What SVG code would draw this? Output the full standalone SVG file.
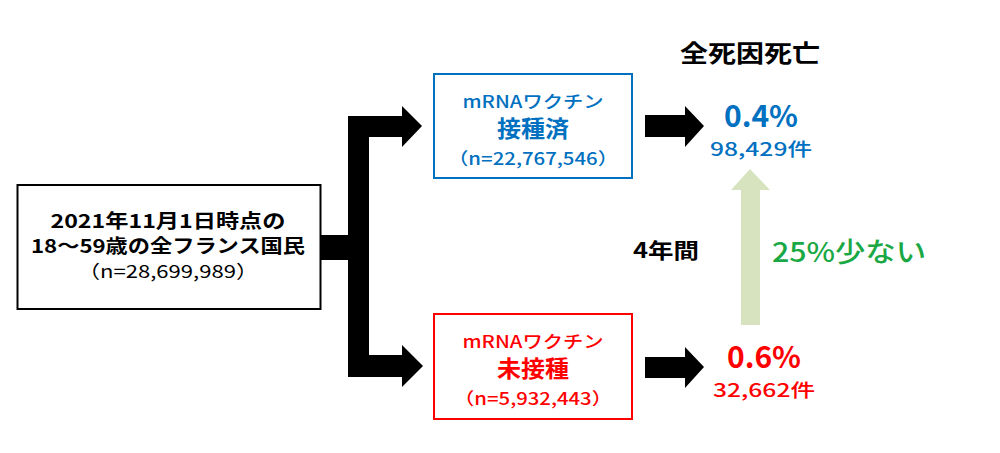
<svg xmlns="http://www.w3.org/2000/svg" width="1000" height="453" viewBox="0 0 1000 453">
<style>
text{font-family:"Noto Sans CJK JP","Noto Sans",sans-serif;text-anchor:middle}
.b{font-weight:bold}
.m{font-weight:500}
.blue{fill:#0070c0}
.red{fill:#ff0000}
</style>
<rect width="1000" height="453" fill="#fff"/>
<g id="connectors">
<polygon fill="#000" points="320,235 348,235 348,116 402,116 402,106 422,126 402,147 402,137 369,137 369,355 402,355 402,345 423,366 402,387 402,377 348,377 348,260 320,260"/>
<polygon fill="#000" points="645,115 685,115 685,106 704,126 685,147 685,137 645,137"/>
<polygon fill="#000" points="645,357 685,357 685,347 704,367 685,388 685,378 645,378"/>
<polygon fill="#d7e3bf" points="741,325 741,190 731,190 750,169 770,190 760,190 760,325"/>
</g>
<g id="source">
<rect x="17.5" y="185" width="303" height="124" fill="#fff" stroke="#000" stroke-width="2"/>
<text x="168" y="228" font-size="19" class="b" textLength="235" lengthAdjust="spacingAndGlyphs">2021年11月1日時点の</text>
<text x="168" y="253" font-size="19" class="b" textLength="274" lengthAdjust="spacingAndGlyphs">18～59歳の全フランス国民</text>
<text x="168" y="278" font-size="18" textLength="180" lengthAdjust="spacingAndGlyphs">（n=28,699,989）</text>
</g>
<g id="vaccinated">
<rect x="434" y="74" width="198" height="104" fill="#fff" stroke="#0070c0" stroke-width="2"/>
<text x="533" y="108" font-size="17" class="m blue" textLength="141" lengthAdjust="spacingAndGlyphs">mRNAワクチン</text>
<text x="533" y="137" font-size="23" class="b blue" textLength="72" lengthAdjust="spacingAndGlyphs">接種済</text>
<text x="533" y="165" font-size="17" class="m blue" textLength="170" lengthAdjust="spacingAndGlyphs">（n=22,767,546）</text>
</g>
<g id="unvaccinated">
<rect x="434" y="314" width="198" height="105" fill="#fff" stroke="#ff0000" stroke-width="2"/>
<text x="533" y="348" font-size="17" class="m red" textLength="141" lengthAdjust="spacingAndGlyphs">mRNAワクチン</text>
<text x="533" y="377" font-size="23" class="b red" textLength="72" lengthAdjust="spacingAndGlyphs">未接種</text>
<text x="533" y="405" font-size="17" class="m red" textLength="158" lengthAdjust="spacingAndGlyphs">（n=5,932,443）</text>
</g>
<g id="title"><text x="750" y="62" font-size="24" class="b" textLength="140" lengthAdjust="spacingAndGlyphs">全死因死亡</text></g>
<g id="result-vaccinated">
<text x="761" y="127" font-size="30" class="b blue">0.4%</text>
<text x="761" y="156" font-size="18" class="m blue" textLength="102" lengthAdjust="spacingAndGlyphs">98,429件</text>
</g>
<g id="result-unvaccinated">
<text x="764" y="368" font-size="30" class="b red">0.6%</text>
<text x="764" y="397" font-size="18" class="m red" textLength="102" lengthAdjust="spacingAndGlyphs">32,662件</text>
</g>
<g id="period"><text x="666" y="258" font-size="21" class="b" textLength="66" lengthAdjust="spacingAndGlyphs">4年間</text></g>
<g id="diff"><text x="849" y="262" font-size="27" class="m" fill="#1aa845" textLength="154" lengthAdjust="spacingAndGlyphs">25%少ない</text></g>
</svg>
